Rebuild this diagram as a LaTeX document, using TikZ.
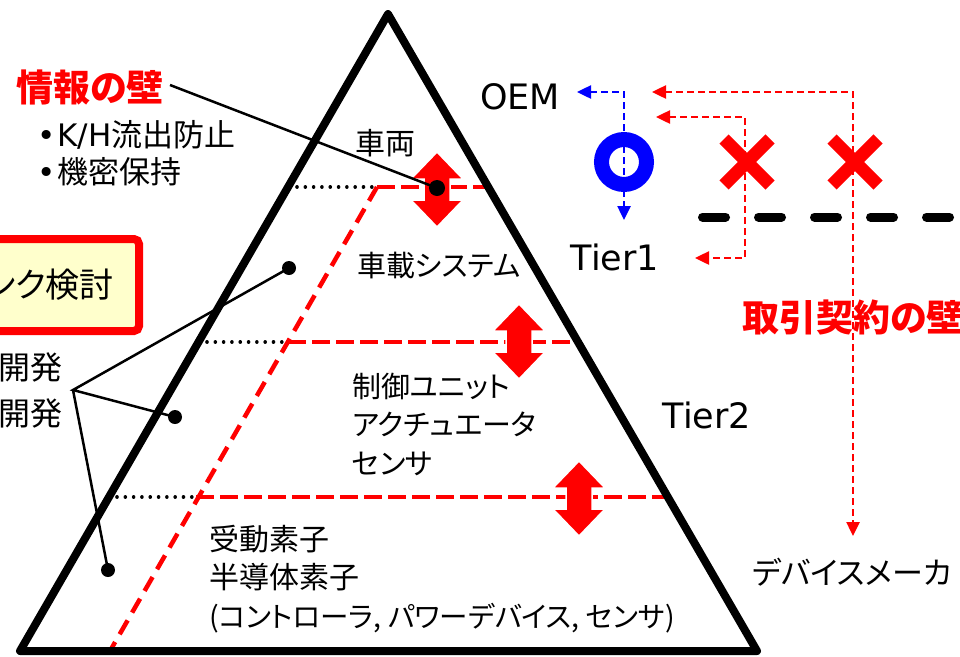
\documentclass[tikz,border=0pt]{standalone}
\usepackage{fontspec}
\setmainfont{Noto Sans CJK JP}[RawFeature=+palt]
\newfontfamily\lat{DejaVu Sans}
\usetikzlibrary{arrows.meta,calc}
\definecolor{boxyellow}{RGB}{255,255,204}
\definecolor{pred}{RGB}{255,0,0}
\definecolor{pblue}{RGB}{0,0,255}
\tikzset{
  txt/.style={inner sep=0pt, text=black},
  jp/.style={txt, font=\fontsize{#1pt}{38.5pt}\selectfont},
  latx/.style={txt, font=\lat\fontsize{35pt}{40pt}\selectfont},
  wall/.style={txt, text=pred, font=\fontsize{#1pt}{40pt}\selectfont\bfseries},
  tri/.style={line width=8pt, line join=round, line cap=round},
  reddashthick/.style={pred, line width=4.5pt, dash pattern=on 18pt off 6pt},
  reddiag/.style={pred, line width=4.5pt, dash pattern=on 16pt off 9pt},
  dots/.style={line width=3.6pt, line cap=round, dash pattern=on 0.01pt off 8.3pt},
  rflow/.style={pred, line width=2.5pt, dash pattern=on 7pt off 4pt, {Triangle[length=14pt,width=13pt]}-{Triangle[length=14pt,width=13pt]}},
  bflow/.style={pblue, line width=2.5pt, dash pattern=on 7pt off 4pt, {Triangle[length=14pt,width=13pt]}-{Triangle[length=14pt,width=13pt]}},
  lead/.style={line width=2.5pt},
  dotmark/.style={fill=black},
  crossbar/.style={pred, line width=13pt, line cap=butt},
  dblarrow/.pic={\fill[pred, draw=white, line width=1.5pt]
     (0,-37.5) -- (26,-10.5) -- (13,-10.5) -- (13,10.5) -- (26,10.5) -- (0,37.5)
     -- (-26,10.5) -- (-13,10.5) -- (-13,-10.5) -- (-26,-10.5) -- cycle;},
}
\begin{document}
\begin{tikzpicture}[x=1pt,y=-1pt]
\useasboundingbox (0,0) rectangle (960,656);
% triangle vertices
\coordinate (apex) at (388,14);
\coordinate (bl) at (20,651);
\coordinate (br) at (757,651);
% level points
\coordinate (d1s) at (297,187); \coordinate (k1) at (377,187); \coordinate (r1) at (488,187);
\coordinate (d2s) at (207,342); \coordinate (k2) at (288,342); \coordinate (r2) at (578,342);
\coordinate (d3s) at (117,497); \coordinate (k3) at (196,497); \coordinate (r3) at (668,497);
\coordinate (kb) at (110,651);

% left yellow box
\draw[pred, line width=8pt, fill=boxyellow, rounded corners=5pt] (-30,239) rectangle (139,331);
\node[jp=34, anchor=east] (kento) at (114,285) {ンク検討};
\node[jp=32, anchor=east] (kaihatsu1) at (63,367) {開発};
\node[jp=32, anchor=east] (kaihatsu2) at (63,413) {開発};

% layer boundaries
\draw[dots] (d1s) -- (k1);
\draw[dots] (d2s) -- (k2);
\draw[dots] (d3s) -- (k3);
\draw[reddashthick] (k1) -- (r1);
\draw[reddashthick] (k2) -- (r2);
\draw[reddashthick] (k3) -- (r3);
\draw[reddiag] (k1) -- (kb);

% double arrows
\pic at (437,189.5) {dblarrow};
\pic at (519,341.5) {dblarrow};
\pic at (579,498.5) {dblarrow};

% triangle
\draw[tri] (apex) -- (bl) -- (br) -- cycle;

% layer texts
\node[jp=30] (sharyo) at (385,143) {車両};
\node[jp=29, anchor=west] (shasai) at (357,266) {車載システム};
\node[jp=29, anchor=west, align=left] (unit) at (352,424) {制御ユニット\\アクチュエータ\\センサ};
\node[jp=30, anchor=west, align=left] (device) at (209,579) {受動素子\\半導体素子\\{\fontsize{28.5pt}{38.5pt}\selectfont (コントローラ, パワーデバイス, センサ)}};

% wall of information
\node[wall=37] (jouhou) at (90,87) {情報の壁};
\node[jp=31, anchor=west] (kh) at (37,135) {{\lat •}\hspace{2pt}{\lat K/H}流出防止};
\node[jp=31, anchor=west] (kimitsu) at (37,172) {{\lat •}\hspace{2pt}機密保持};
\coordinate (jstart) at (170,85);
\coordinate (dot0) at (437,188);
\draw[lead] (jstart) -- (dot0);
\fill[dotmark] (dot0) circle[radius=8pt];

% leader lines from left
\coordinate (hub) at (73,390);
\coordinate (dotA) at (289,268);
\coordinate (dotB) at (175,417);
\coordinate (dotC) at (108,570);
\draw[lead] (dotA) -- (hub) -- (dotB);
\draw[lead] (hub) -- (dotC);
\fill[dotmark] (dotA) circle[radius=7pt];
\fill[dotmark] (dotB) circle[radius=7pt];
\fill[dotmark] (dotC) circle[radius=7pt];

% right side labels
\node[latx] (oem) at (520,97) {OEM};
\node[latx] (tier1) at (615,257) {Tier1};
\node[latx] (tier2) at (707,415) {Tier2};
\node[jp=31] (maker) at (852,572) {デバイスメーカ};
\node[wall=37, anchor=west] (torihiki) at (742,317) {取引契約の壁};

% blue OK flow
\coordinate (ring) at (624,162);
\draw[pblue, line width=15pt] (ring) circle[radius=22.5pt];
\coordinate (bTip1) at (577,92);
\coordinate (bCorner) at (624,92);
\coordinate (bTip2) at (624,220);
\draw[bflow] (bTip1) -- (bCorner) -- (bTip2);

% red blocked flows
\coordinate (rTipA) at (652,92);
\coordinate (rCornerA) at (853,92);
\coordinate (rTipB) at (853,536);
\draw[rflow] (rTipA) -- (rCornerA) -- (rTipB);
\coordinate (rTipC) at (656,117);
\coordinate (rCornerC) at (745,117);
\coordinate (rCornerD) at (745,258);
\coordinate (rTipD) at (695,258);
\draw[rflow] (rTipC) -- (rCornerC) -- (rCornerD) -- (rTipD);

% X marks
\coordinate (x1) at (747,162);
\coordinate (x2) at (855,162);
\foreach \c in {x1,x2}{
  \draw[crossbar] ($(\c)+(-23,-23)$) -- ($(\c)+(23,23)$);
  \draw[crossbar] ($(\c)+(-23,23)$) -- ($(\c)+(23,-23)$);
}

% black thick dashed boundary
\coordinate (bdS) at (702.5,217);
\coordinate (bdE) at (975,217);
\draw[line width=9pt, line cap=round, dash pattern=on 23pt off 33pt] (bdS) -- (bdE);
\end{tikzpicture}
\end{document}
